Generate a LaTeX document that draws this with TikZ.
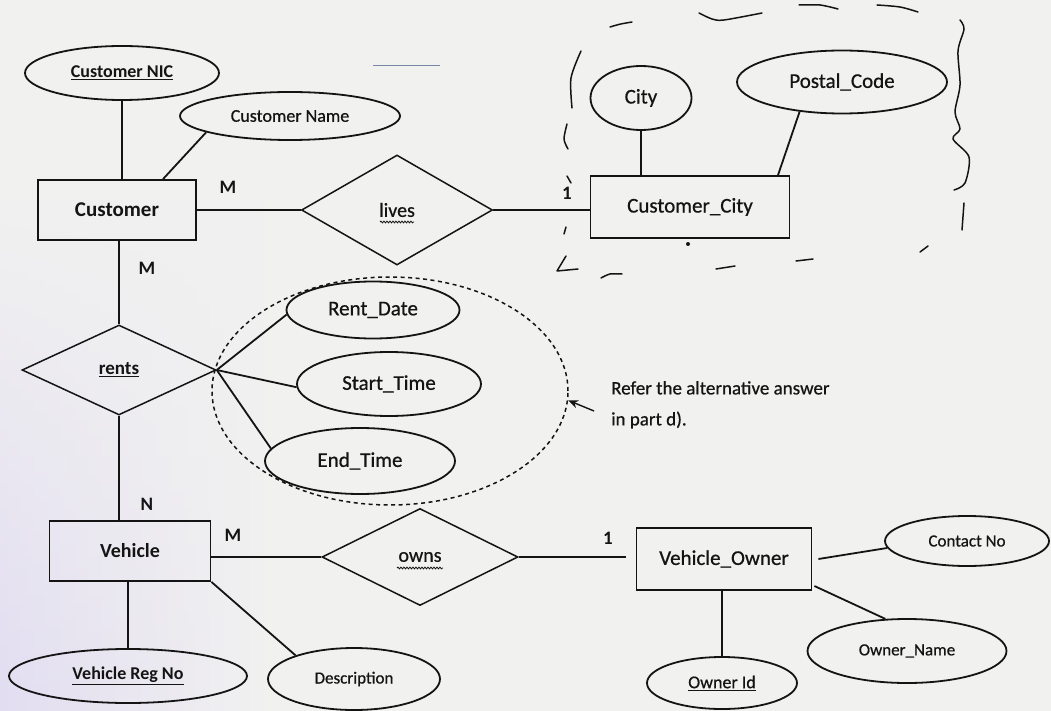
\documentclass[tikz,border=0pt]{standalone}
\usepackage{fontspec}
\setmainfont{Carlito}
\newfontfamily\scan{Carlito}[FakeBold=0.7]
\usetikzlibrary{shapes.geometric,arrows.meta,decorations.pathmorphing,fadings}
\newcommand\fsz[1]{\fontsize{#1}{#1}\selectfont}
\definecolor{ink}{HTML}{141414}
\definecolor{paper}{HTML}{F1F1F0}
\definecolor{lav}{HTML}{E2DDF2}
\definecolor{faint}{HTML}{7A86A8}
\begin{document}
\begin{tikzpicture}[x=1pt,y=-1pt,
  ent/.style={draw=ink, rectangle, line width=1.8pt, inner sep=0pt, text=ink},
  attr/.style={draw=ink, ellipse, line width=1.8pt, inner sep=0pt, text=ink},
  rel/.style={draw=ink, diamond, line width=1.5pt, inner sep=0pt, text=ink},
  lnk/.style={draw=ink, line width=1.8pt},
  card/.style={text=ink, font=\fsz{19}\bfseries, inner sep=0pt},
  pen/.style={draw=ink, line width=1.5pt, line cap=round, line join=round},
  squig/.style={draw=ink, line width=0.8pt, decorate, decoration={snake, amplitude=0.9pt, segment length=3pt}}
]
\useasboundingbox (0,0) rectangle (1051,711);
\fill[paper] (0,0) rectangle (1051,711);
\shade[left color=lav, right color=paper, path fading=north] (0,200) rectangle (270,711);

% nodes
\node[attr, minimum width=194pt, minimum height=54pt, font=\fsz{18}\bfseries] (nic) at (122,73) {\underline{Customer NIC}};
\node[attr, minimum width=220pt, minimum height=48pt, font=\fsz{18}\scan] (cname) at (290,116) {Customer Name};
\node[ent, minimum width=158pt, minimum height=60pt, font=\fsz{21}\bfseries] (cust) at (117,210) {Customer};
\node[rel, minimum width=191pt, minimum height=110pt, font=\fsz{20}\scan] (lives) at (397,210) {lives};
\node[ent, minimum width=199pt, minimum height=62pt, font=\fsz{21}\scan] (ccity) at (690,207) {Customer\_City};
\node[attr, minimum width=101pt, minimum height=64pt, font=\fsz{21}\scan] (city) at (641,98) {City};
\node[attr, minimum width=210pt, minimum height=63pt, font=\fsz{21}\scan] (postal) at (842,82) {Postal\_Code};
\node[rel, minimum width=194pt, minimum height=90pt, font=\fsz{19}\bfseries] (rents) at (119,370) {\underline{rents}};
\node[draw=ink, ellipse, dash pattern=on 4pt off 3.5pt, line width=1.5pt, minimum width=356pt, minimum height=228pt, inner sep=0pt] (grp) at (390,391) {};
\node[attr, minimum width=173pt, minimum height=57pt, font=\fsz{21}\scan] (rentd) at (373,310) {Rent\_Date};
\node[attr, minimum width=184pt, minimum height=64pt, font=\fsz{21}\scan] (startt) at (389,384) {Start\_Time};
\node[attr, minimum width=190pt, minimum height=66pt, font=\fsz{21}\scan] (endt) at (360,461) {End\_Time};
\node[ent, minimum width=161pt, minimum height=60pt, font=\fsz{20}\bfseries] (veh) at (130,551) {Vehicle};
\node[rel, minimum width=196pt, minimum height=97pt, font=\fsz{20}\scan] (owns) at (420,557) {owns};
\node[ent, minimum width=175pt, minimum height=62pt, font=\fsz{21}\scan] (vown) at (724,559) {Vehicle\_Owner};
\node[attr, minimum width=164pt, minimum height=50pt, font=\fsz{17}\scan] (contact) at (967,541) {Contact No};
\node[attr, minimum width=199pt, minimum height=64pt, font=\fsz{17}\scan] (oname) at (907,651) {Owner\_Name};
\node[attr, minimum width=150pt, minimum height=52pt, font=\fsz{18}\scan] (oid) at (722,683) {\underline{Owner Id}};
\node[attr, minimum width=238pt, minimum height=54pt, font=\fsz{18}\bfseries] (vrn) at (128,676) {\underline{Vehicle Reg No}};
\node[attr, minimum width=172pt, minimum height=62pt, font=\fsz{17}\scan] (desc) at (354,679) {Description};

% connectors
\draw[lnk] (nic.south) -- (nic.south |- cust.north);
\draw[lnk] ([xshift=46pt]cust.north) -- (cname.191);
\draw[lnk] (cust.east) -- (lives.west);
\draw[lnk] (lives.east) -- (lives.east -| ccity.west);
\draw[lnk] (city.south) -- (city.south |- ccity.north);
\draw[lnk] ([xshift=88pt]ccity.north) -- (postal.215);
\draw[lnk] (rents.north |- cust.south) -- (rents.north);
\draw[lnk] (rents.south) -- (rents.south |- veh.north);
\draw[lnk] (rents.east) -- (rentd.183);
\draw[lnk] (rents.east) -- (startt.182);
\draw[lnk] (rents.east) -- (endt.172);
\draw[lnk] (owns.west -| veh.east) -- (owns.west);
\draw[lnk] (owns.east) -- ([xshift=-10pt]owns.east -| vown.west);
\draw[lnk] ([xshift=6pt]vown.east) -- (contact.185);
\draw[lnk] ([shift={(2,27)}]vown.east) -- (oname.124);
\draw[lnk] (oid.north |- vown.south) -- (oid.north);
\draw[lnk] (vrn.north |- veh.south) -- (vrn.north);
\draw[lnk] (veh.south east) -- (desc.158);

% wavy underlines
\draw[squig] ([shift={(-17,12)}]lives.center) -- ([shift={(17,12)}]lives.center);
\draw[squig] ([shift={(-23,11)}]owns.center) -- ([shift={(23,11)}]owns.center);

% cardinalities
\node[card] (m1) at (228,187) {M};
\node[card] (one1) at (567,193) {1};
\node[card] (m2) at (147,268) {M};
\node[card] (n1) at (147,504) {N};
\node[card] (m3) at (233,535) {M};
\node[card] (one2) at (608,538) {1};

% note and arrow
\node[anchor=north west, align=left, font=\fontsize{19}{31}\selectfont\scan, text=ink, inner sep=0pt] (note) at (611,381) {Refer the alternative answer\\in part d).};
\coordinate (atail) at (594,411);
\draw[ink, line width=1.4pt, -{Stealth[length=10pt,width=8pt]}] (atail) -- (grp.-3);

% hand-drawn pen marks
\draw[pen] (610,27) .. controls (620,24) .. (632,22);
\draw[pen] plot[smooth] coordinates {(699,13) (712,19) (724,20) (762,13)};
\draw[pen] plot[smooth] coordinates {(799,5) (820,5) (838,9)};
\draw[pen] plot[smooth] coordinates {(877,5) (900,7) (918,12)};
\draw[pen] plot[smooth] coordinates {(960,20) (964,29) (958,51) (960,85) (955,112) (960,129) (953,139) (969,157) (965,183) (954,190)};
\draw[pen] (964,203) -- (962,230);
\draw[pen] plot[smooth] coordinates {(581,51) (571,78) (572,108)};
\draw[pen] plot[smooth] coordinates {(567,124) (564,139) (568,149)};
\draw[pen] (567,176) -- (571,183);
\draw[pen] (566,227) -- (564,234);
\draw[pen] plot coordinates {(566,256) (557,271) (578,269)};
\draw[pen] plot[smooth] coordinates {(601,278) (610,274) (622,274)};
\draw[pen] (716,269) -- (735,266);
\draw[pen] (796,261) -- (813,259);
\draw[pen] (920,252) -- (928,246);
\fill[ink] (688,244) circle (2);
\draw[faint, line width=1pt] (373,66) -- (440,66);
\end{tikzpicture}
\end{document}
